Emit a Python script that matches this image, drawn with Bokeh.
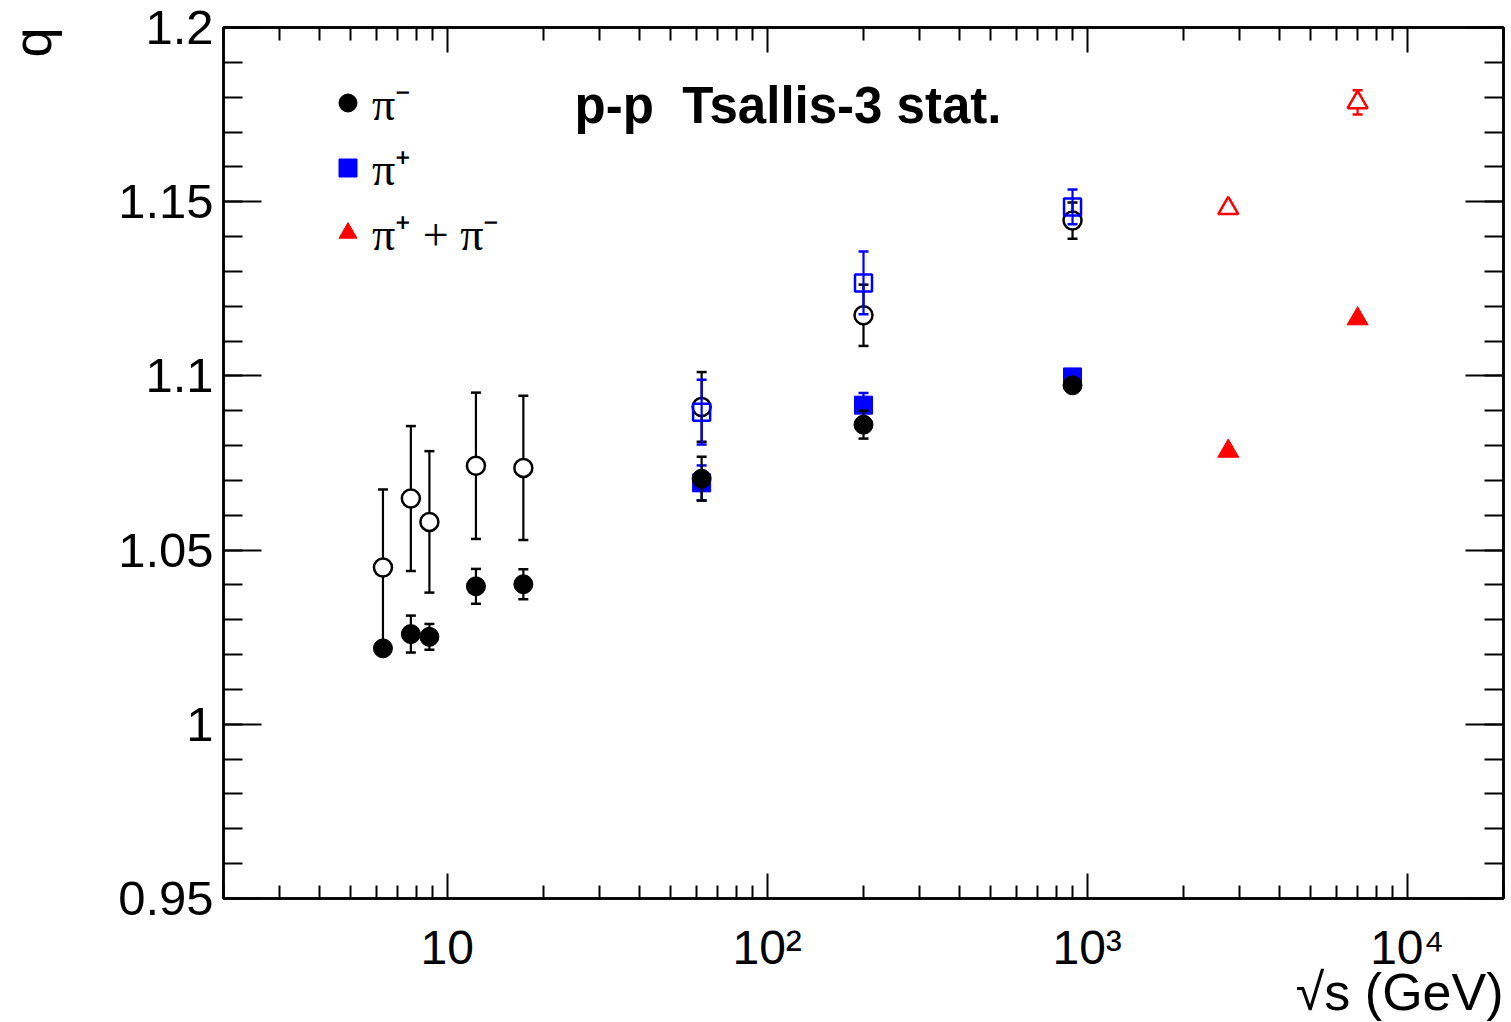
from bokeh.plotting import figure
from bokeh.models import (LinearAxis, LogAxis, FixedTicker, ColumnDataSource, Label,
                          Legend, LegendItem, Range1d, CustomJSTickFormatter, Title)
from bokeh.embed import file_html
from bokeh.resources import INLINE

# ---------------- data ----------------
sqrt_s_pim = [6.3, 7.7, 8.8, 12.3, 17.3, 62.4, 200.0, 900.0]
q_pim_filled = [1.0218, 1.0259, 1.0251, 1.0396, 1.0402, 1.0705, 1.0860, 1.0973]
q_pim_filled_err = [0.0010, 0.0053, 0.0037, 0.0050, 0.0043, 0.0063, 0.0040, 0.0010]
q_pim_open = [1.0450, 1.0648, 1.0581, 1.0742, 1.0736, 1.0911, 1.1174, 1.1446]
q_pim_open_err = [0.0224, 0.0208, 0.0203, 0.0210, 0.0207, 0.0100, 0.0088, 0.0052]

sqrt_s_pip = [62.4, 200.0, 900.0]
q_pip_filled = [1.0693, 1.0916, 1.0997]
q_pip_filled_err = [0.0050, 0.0035, 0.0010]
q_pip_open = [1.0896, 1.1267, 1.1485]
q_pip_open_err = [0.0093, 0.0090, 0.0050]

sqrt_s_pipm = [2760.0, 7000.0]
q_pipm_filled = [1.0784, 1.1164]
q_pipm_filled_err = [0.0005, 0.0005]
q_pipm_open = [1.1481, 1.1785]
q_pipm_open_err = [0.0005, 0.0035]

x_tick_vals = [10, 100, 1000, 10000]
x_tick_labels = ["10", "10²", "10³", "10⁴"]
y_tick_vals = [0.95, 1.0, 1.05, 1.1, 1.15, 1.2]
y_tick_labels = ["0.95", "1", "1.05", "1.1", "1.15", "1.2"]

legend_labels = ["π⁻", "π⁺", "π⁺ + π⁻"]
title_text = "p-p\u00a0 Tsallis-3 stat."
x_title = "√s (GeV)"
y_title = "q"

FONT = "Liberation Sans"
X_MIN, X_MAX = 2, 20000
FRAME_LEFT, FRAME_W = 223, 1280

p = figure(width=1511, height=1022, x_axis_type="log",
           x_range=Range1d(X_MIN, X_MAX), y_range=Range1d(0.95, 1.2),
           output_backend="svg", toolbar_location=None,
           min_border_left=FRAME_LEFT, min_border_right=8, min_border_top=27, min_border_bottom=124)
p.xgrid.visible = False
p.ygrid.visible = False
p.outline_line_color = "black"
p.outline_line_width = 2.5
p.background_fill_color = "white"
p.border_fill_color = "white"

x_minor = [m * 10 ** k for k in range(0, 5) for m in range(2, 10) if m * 10 ** k <= 20000]
y_minor = [round(0.95 + 0.01 * i, 2) for i in range(26)]

def blank():
    return CustomJSTickFormatter(code="return ''")

def style_x(ax, labels=False):
    ax.ticker = FixedTicker(ticks=x_tick_vals, minor_ticks=x_minor)
    ax.major_tick_in = 25
    ax.major_tick_out = 0
    ax.minor_tick_in = 13
    ax.minor_tick_out = 0
    ax.major_tick_line_width = 2
    ax.minor_tick_line_width = 2
    ax.axis_line_width = 2.5
    if labels:
        ax.major_label_overrides = dict(zip(x_tick_vals, x_tick_labels))
        ax.major_label_text_font = FONT
        ax.major_label_text_font_size = "48px"
        ax.major_label_text_color = "black"
        ax.major_label_standoff = 22
    else:
        ax.formatter = blank()
        ax.major_label_standoff = 0

def style_y(ax, labels=True):
    ax.ticker = FixedTicker(ticks=y_tick_vals, minor_ticks=y_minor)
    ax.major_tick_in = 38
    ax.major_tick_out = 0
    ax.minor_tick_in = 19
    ax.minor_tick_out = 0
    ax.major_tick_line_width = 2
    ax.minor_tick_line_width = 2
    ax.axis_line_width = 2.5
    if labels:
        ax.major_label_overrides = dict(zip(y_tick_vals, y_tick_labels))
        ax.major_label_text_font = FONT
        ax.major_label_text_font_size = "49px"
        ax.major_label_text_color = "black"
        ax.major_label_standoff = 10
    else:
        ax.formatter = blank()
        ax.major_label_standoff = 0

style_x(p.xaxis[0], labels=True)
style_y(p.yaxis[0])
top_ax = LogAxis()
style_x(top_ax)
p.add_layout(top_ax, "above")
right_ax = LinearAxis()
style_y(right_ax, labels=False)
p.add_layout(right_ax, "right")

# x axis title as a side-panel title (right aligned, like the reference)
p.add_layout(Title(text=x_title, align="right", text_font=FONT, text_font_size="52px",
                   text_font_style="normal", text_color="black", standoff=-32), "below")
# y axis title: rotated label in the left side panel, top aligned at the frame top;
# its horizontal anchor is 192 px left of the frame, expressed through the x scale
decades = 4.0  # log10(X_MAX / X_MIN)
q_anchor_x = X_MIN * 10 ** (-192 * decades / FRAME_W)
p.add_layout(Label(x=q_anchor_x, y=1.2, x_units="data", y_units="data", text=y_title,
                   angle=1.5707963, text_align="right", text_baseline="alphabetic",
                   text_font=FONT, text_font_size="54px", text_color="black"), "left")

def errsrc(x, y, e):
    return ColumnDataSource(dict(x=x, y=y, lo=[a - b for a, b in zip(y, e)],
                                 hi=[a + b for a, b in zip(y, e)]))

def errbars(src, color):
    p.segment(x0="x", y0="lo", x1="x", y1="hi", source=src, line_color=color, line_width=2.2)
    p.scatter(x="x", y="lo", source=src, marker="dash", size=10, line_color=color, line_width=2.5)
    p.scatter(x="x", y="hi", source=src, marker="dash", size=10, line_color=color, line_width=2.5)

# open black circles
s = errsrc(sqrt_s_pim, q_pim_open, q_pim_open_err)
errbars(s, "black")
p.scatter(x="x", y="y", source=s, marker="circle", size=18, fill_color="white",
          line_color="black", line_width=2.5)
# open blue squares
s = errsrc(sqrt_s_pip, q_pip_open, q_pip_open_err)
errbars(s, "blue")
p.scatter(x="x", y="y", source=s, marker="square", size=17, fill_color=None,
          line_color="blue", line_width=2.5)
# open red triangles
s = errsrc(sqrt_s_pipm, q_pipm_open, q_pipm_open_err)
errbars(s, "red")
p.scatter(x="x", y="y", source=s, marker="triangle", size=20, fill_color="white",
          line_color="red", line_width=2.5)
# filled blue squares
s = errsrc(sqrt_s_pip, q_pip_filled, q_pip_filled_err)
errbars(s, "blue")
r_pip = p.scatter(x="x", y="y", source=s, marker="square", size=18, fill_color="blue",
                  line_color="blue", line_width=1)
# filled black circles
s = errsrc(sqrt_s_pim, q_pim_filled, q_pim_filled_err)
errbars(s, "black")
r_pim = p.scatter(x="x", y="y", source=s, marker="circle", size=19, fill_color="black",
                  line_color="black", line_width=1)
# filled red triangles
s = errsrc(sqrt_s_pipm, q_pipm_filled, q_pipm_filled_err)
errbars(s, "red")
r_pipm = p.scatter(x="x", y="y", source=s, marker="triangle", size=21, fill_color="red",
                   line_color="red", line_width=1)

legend = Legend(items=[LegendItem(label=legend_labels[0], renderers=[r_pim]),
                       LegendItem(label=legend_labels[1], renderers=[r_pip]),
                       LegendItem(label=legend_labels[2], renderers=[r_pipm])],
                location=(102, 635), glyph_width=45, glyph_height=45, label_height=45,
                spacing=3, padding=0, margin=0, border_line_color=None,
                background_fill_alpha=0, label_text_font="Liberation Serif",
                label_text_font_size="46px", label_text_color="black", label_standoff=2)
p.add_layout(legend)

# plot title
p.add_layout(Label(x=351, y=793, x_units="screen", y_units="screen", text=title_text,
                   text_align="left", text_baseline="alphabetic",
                   text_font=FONT, text_font_style="bold", text_font_size="51px",
                   text_color="black"))

open("out.html", "w").write(file_html(p, INLINE))
